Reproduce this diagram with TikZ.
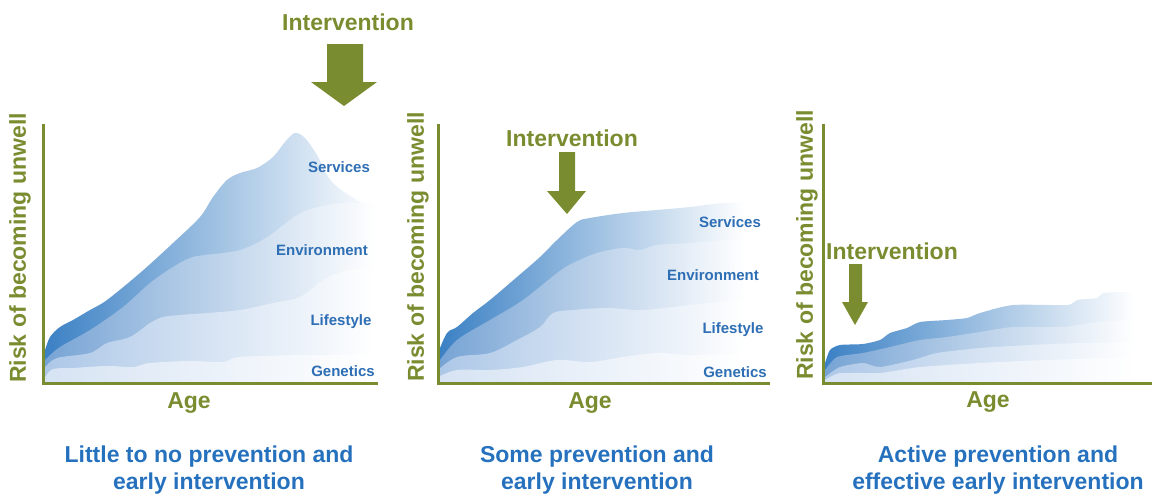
\documentclass[tikz,border=0pt]{standalone}
\usepackage{fontspec}
\setmainfont{Liberation Sans}
\definecolor{olive}{RGB}{122,140,48}
\definecolor{capblue}{RGB}{38,113,190}
\definecolor{lblue}{RGB}{45,110,180}
\definecolor{cA}{RGB}{58,128,196}
\definecolor{cB}{RGB}{118,163,212}
\definecolor{cC}{RGB}{172,199,231}
\definecolor{cD}{RGB}{214,227,243}
\tikzset{
  axisline/.style={draw=olive,line width=3pt},
  bigtxt/.style={font=\fontsize{23}{27}\selectfont\bfseries,inner sep=0pt},
  ylab/.style={bigtxt,text=olive,rotate=90},
  agelab/.style={bigtxt,text=olive},
  inttxt/.style={bigtxt,text=olive},
  intarrow/.style={fill=olive},
  caption/.style={bigtxt,text=capblue,align=center},
  bandlab/.style={font=\fontsize{15}{18}\selectfont\bfseries,text=lblue,inner sep=0pt},
  layA/.style={left color=cA,right color=white},
  layB/.style={left color=cB,right color=white},
  layC/.style={left color=cC,right color=white},
  layD/.style={left color=cD,right color=white},
  sm/.style={smooth,tension=0.55}
}
\begin{document}
\begin{tikzpicture}[x=1pt,y=-1pt]
\useasboundingbox (0,0) rectangle (1152,496);

% ---------------- Panel 1 ----------------
\shade[layA] plot[sm] coordinates {(43,352) (45,350) (50,337) (60,327) (73,320) (90,310) (107,300) (140,273) (173,243) (200,217) (213,197) (227,180) (240,173) (257,168) (273,157) (285,142) (295,133) (305,138) (317,155) (332,182) (357,200) (378,210)} -- (378,383) -- (43,383) -- cycle;
\shade[layB] plot[sm] coordinates {(43,362) (45,360) (60,347) (90,330) (123,307) (150,283) (173,267) (193,257) (223,253) (240,250) (257,243) (273,233) (290,220) (307,210) (340,203) (376,203)} -- (376,383) -- (43,383) -- cycle;
\shade[layC] plot[sm] coordinates {(43,368) (45,367) (57,358) (90,353) (107,343) (130,337) (150,323) (163,317) (180,315) (207,313) (240,310) (273,303) (300,297) (323,280) (347,270) (374,267)} -- (374,383) -- (43,383) -- cycle;
\shade[layD] plot[sm] coordinates {(43,378) (45,377) (53,369) (73,368) (107,366) (133,367) (150,363) (190,361) (223,362) (240,357) (307,355) (372,355)} -- (372,383) -- (43,383) -- cycle;
\draw[axisline] (43,124) -- (43,383) -- (378,383);
\node[ylab] (y1) at (20,248) {Risk of becoming unwell};
\node[agelab] (a1) at (189,403) {Age};
\node[inttxt] (i1) at (348,22) {Intervention};
\fill[intarrow] (327,44) -- (363,44) -- (363,82) -- (377,82) -- (344,106) -- (311,82) -- (327,82) -- cycle;
\node[bandlab] (s1) at (339,167) {Services};
\node[bandlab] (e1) at (322,250) {Environment};
\node[bandlab] (l1) at (341,322) {Lifestyle};
\node[bandlab] (g1) at (343,371) {Genetics};
\node[caption] (c1) at (209,470.5) {Little to no prevention and\\early intervention};

% ---------------- Panel 2 ----------------
\shade[layA] plot[sm] coordinates {(438,353) (447,333) (457,327) (473,313) (490,300) (517,277) (540,257) (557,240) (577,222) (590,218) (623,213) (657,210) (690,207) (723,203) (745,203)} -- (745,383) -- (438,383) -- cycle;
\shade[layB] plot[sm] coordinates {(438,363) (457,340) (490,320) (523,300) (557,273) (573,263) (597,253) (623,248) (640,250) (657,245) (690,243) (723,240) (745,238)} -- (745,383) -- (438,383) -- cycle;
\shade[layC] plot[sm] coordinates {(438,370) (457,357) (490,353) (517,340) (540,327) (553,313) (573,310) (607,308) (640,310) (673,307) (707,303) (745,300)} -- (745,383) -- (438,383) -- cycle;
\shade[layD] plot[sm] coordinates {(438,377) (457,370) (490,370) (523,367) (557,360) (590,362) (623,357) (657,353) (690,355) (745,353)} -- (745,383) -- (438,383) -- cycle;
\draw[axisline] (438,124) -- (438,383) -- (770,383);
\node[ylab] (y2) at (418,247) {Risk of becoming unwell};
\node[agelab] (a2) at (590,403) {Age};
\node[inttxt] (i2) at (572,138) {Intervention};
\fill[intarrow] (559,152) -- (575,152) -- (575,191) -- (586,191) -- (567,214) -- (547,191) -- (559,191) -- cycle;
\node[bandlab] (s2) at (730,222) {Services};
\node[bandlab] (e2) at (713,275) {Environment};
\node[bandlab] (l2) at (733,330) {Lifestyle};
\node[bandlab] (g2) at (735,372) {Genetics};
\node[caption] (c2) at (597,470.5) {Some prevention and\\early intervention};

% ---------------- Panel 3 ----------------
\shade[layA] plot[smooth,tension=0.4] coordinates {(823,366) (825,363) (830,350) (840,345) (863,344) (880,340) (890,333) (907,328) (920,322) (947,320) (967,318) (980,313) (1013,305) (1067,305) (1077,300) (1097,298) (1103,293) (1123,292) (1135,293)} -- (1135,383) -- (823,383) -- cycle;
\shade[layB] plot[smooth,tension=0.4] coordinates {(823,373) (825,370) (837,357) (863,353) (890,347) (920,340) (947,337) (980,332) (1013,327) (1063,327) (1097,322) (1135,320)} -- (1135,383) -- (823,383) -- cycle;
\shade[layC] plot[smooth,tension=0.4] coordinates {(823,379) (825,377) (840,367) (863,363) (880,367) (913,360) (937,353) (980,348) (1030,345) (1080,343) (1135,342)} -- (1135,383) -- (823,383) -- cycle;
\shade[layD] plot[smooth,tension=0.4] coordinates {(823,381) (825,380) (840,373) (880,373) (920,367) (980,363) (1047,360) (1135,357)} -- (1135,383) -- (823,383) -- cycle;
\draw[axisline] (823,124) -- (823,383) -- (1152,383);
\node[ylab] (y3) at (807,245) {Risk of becoming unwell};
\node[agelab] (a3) at (988,402) {Age};
\node[inttxt] (i3) at (892,251) {Intervention};
\fill[intarrow] (849,264) -- (862,264) -- (862,302) -- (868,302) -- (855,325) -- (842,302) -- (849,302) -- cycle;
\node[caption] (c3) at (998,470.5) {Active prevention and\\effective early intervention};
\end{tikzpicture}
\end{document}
